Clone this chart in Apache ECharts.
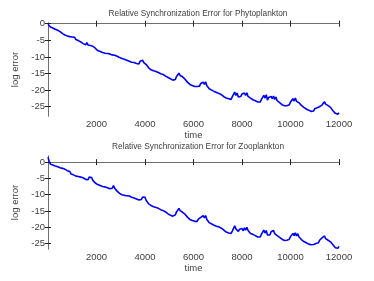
<!DOCTYPE html>
<html><head><meta charset="utf-8">
<script src="https://cdn.jsdelivr.net/npm/echarts@6/dist/echarts.min.js"></script>
<style>html,body{margin:0;padding:0;background:#fff}#c{width:374px;height:281px}</style>
</head><body><div id="c"></div>
<script>
const timeStep = 50;
const titles = ['Relative Synchronization Error for Phytoplankton', 'Relative Synchronization Error for Zooplankton'];
const xTicks = [2000, 4000, 6000, 8000, 10000, 12000];
const yTicks = [-25, -20, -15, -10, -5, 0];
const phytoError = [
-0.2,-0.6,-1.0,-1.4,-1.3,-1.8,-1.7,-2.1,-2.0,-2.5,-2.4,-3.0,-3.0,-3.5,-3.4,-3.9,-3.7,-4.2,-3.9,-4.4,
-4.0,-4.5,-4.1,-4.8,-4.5,-5.1,-4.8,-5.5,-5.0,-6.0,-5.7,-6.4,-5.7,-6.4,-5.8,-6.6,-6.0,-6.8,-6.3,-7.4,
-7.3,-8.1,-7.7,-8.4,-8.0,-8.7,-8.3,-8.9,-8.4,-9.0,-8.6,-9.1,-8.5,-9.4,-8.8,-9.5,-9.1,-9.8,-9.3,-10.2,
-9.8,-10.5,-10.0,-10.7,-10.2,-11.0,-10.5,-11.3,-10.8,-11.6,-11.0,-11.7,-11.1,-12.0,-11.5,-12.1,-11.3,-11.8,-11.0,-11.7,
-11.3,-12.3,-12.4,-13.3,-13.1,-13.9,-13.5,-14.2,-13.7,-14.4,-13.9,-14.7,-14.2,-15.1,-14.6,-15.3,-14.8,-15.8,-15.3,-16.2,
-15.8,-16.6,-16.2,-17.0,-16.5,-16.8,-15.9,-15.7,-14.9,-15.6,-15.1,-16.0,-15.7,-16.7,-16.5,-17.6,-17.3,-18.3,-17.8,-18.6,
-18.0,-18.9,-18.3,-18.9,-18.3,-18.8,-18.0,-18.4,-17.6,-18.3,-17.5,-18.7,-18.3,-19.6,-19.1,-20.0,-19.4,-20.4,-19.8,-20.7,
-20.1,-21.0,-20.4,-21.4,-20.8,-22.0,-21.5,-22.4,-21.8,-22.6,-22.0,-22.8,-22.0,-21.5,-20.6,-21.6,-20.9,-22.1,-21.5,-21.9,
-21.2,-21.8,-20.9,-21.6,-20.8,-21.9,-21.3,-22.4,-21.9,-22.9,-22.3,-23.2,-22.6,-23.6,-23.0,-23.6,-22.8,-22.5,-21.6,-22.4,
-21.4,-23.0,-22.2,-22.8,-21.9,-22.6,-21.8,-22.8,-22.1,-23.2,-22.6,-23.8,-23.2,-24.4,-23.8,-24.7,-24.1,-24.7,-24.1,-24.4,
-23.6,-23.6,-22.6,-23.3,-22.4,-23.4,-22.8,-23.8,-23.2,-24.6,-24.0,-25.2,-24.6,-25.7,-25.1,-26.1,-25.5,-26.4,-25.8,-26.3,
-25.6,-26.0,-25.3,-25.7,-25.0,-25.2,-24.5,-24.4,-23.5,-24.2,-23.7,-24.7,-24.1,-25.2,-25.0,-26.2,-26.0,-27.0,-26.5,-27.3,
-26.8
];
const zooError = [
1.5,0.2,-0.6,-1.1,-0.9,-1.4,-1.2,-1.7,-1.4,-1.9,-1.7,-2.2,-1.9,-2.5,-2.2,-2.8,-2.6,-3.2,-2.9,-3.6,
-3.2,-3.9,-3.6,-4.3,-3.8,-4.4,-4.0,-4.6,-4.1,-4.8,-4.5,-5.3,-4.8,-5.4,-4.6,-5.2,-4.7,-5.6,-5.5,-6.4,
-6.2,-6.9,-6.5,-7.2,-6.8,-7.5,-7.0,-7.6,-7.2,-7.9,-7.5,-8.2,-7.7,-8.0,-7.2,-8.0,-7.9,-8.9,-8.7,-9.6,
-9.3,-10.0,-9.5,-10.2,-9.6,-10.3,-9.7,-10.4,-10.0,-10.8,-10.3,-11.0,-10.5,-11.3,-10.9,-11.6,-11.1,-11.5,-10.7,-11.3,
-10.8,-11.8,-11.8,-12.8,-12.5,-13.3,-12.9,-13.7,-13.2,-13.9,-13.4,-14.2,-13.7,-14.6,-14.1,-14.9,-14.4,-15.3,-14.9,-15.9,
-15.5,-16.3,-15.8,-16.6,-16.0,-16.2,-15.3,-15.1,-14.2,-14.9,-14.4,-15.4,-15.0,-16.0,-15.8,-16.9,-16.6,-17.6,-17.1,-17.9,
-17.3,-18.2,-17.6,-18.2,-17.5,-17.9,-17.0,-17.3,-16.4,-17.1,-16.4,-17.6,-17.4,-18.6,-18.2,-19.0,-18.5,-19.4,-18.8,-19.7,
-19.1,-19.9,-19.4,-20.3,-19.8,-20.9,-20.5,-21.5,-21.0,-21.8,-21.2,-21.9,-21.2,-20.9,-19.6,-20.5,-19.9,-21.3,-20.6,-21.2,
-20.4,-21.1,-20.2,-20.9,-20.0,-21.0,-20.8,-21.9,-21.3,-22.2,-21.6,-22.6,-22.1,-23.0,-22.4,-23.0,-22.2,-21.9,-20.9,-21.8,
-21.0,-22.4,-21.8,-22.4,-21.4,-22.0,-21.0,-22.0,-21.5,-22.6,-22.0,-23.1,-22.6,-23.7,-23.2,-24.1,-23.5,-24.0,-23.4,-23.7,
-22.9,-22.9,-21.9,-22.6,-21.7,-22.7,-22.0,-23.0,-22.5,-23.8,-23.3,-24.4,-23.8,-24.8,-24.3,-25.2,-24.6,-25.4,-24.9,-25.3,
-24.7,-25.0,-24.4,-24.8,-24.0,-24.1,-23.3,-23.5,-22.7,-23.5,-23.1,-24.0,-23.4,-24.5,-24.3,-25.4,-25.1,-26.3,-25.9,-26.5,
-25.9
];
const yRanges = [[-27.8, 0.2], [-26.7, 1.9]];

const series = [phytoError, zooError];
const chart = echarts.init(document.getElementById('c'), null, {renderer: 'canvas'});
const font = 'Liberation Sans';
const textColor = '#404040';
const axisColor = '#6e6e6e';
const grids = [
  {left: 48, right: 35, top: 23, height: 93},
  {left: 48, right: 35, top: 156, height: 93}
];
const xAxes = [], yAxes = [], ser = [], ttl = [];
grids.forEach((g, i) => {
  const base = {min: 0, max: 12000, gridIndex: i, splitLine: {show: false},
    axisLine: {show: true, lineStyle: {color: axisColor, width: 1}},
    axisTick: {show: true, inside: true, length: 3, customValues: xTicks, lineStyle: {color: '#222'}}};
  xAxes.push(Object.assign({}, base, {type: 'value', position: 'bottom', name: 'time', nameLocation: 'middle', nameGap: 14,
    nameTextStyle: {fontFamily: font, fontSize: 9.5, color: textColor},
    axisLabel: {customValues: xTicks, formatter: v => String(v), fontFamily: font, fontSize: 9.5, color: textColor, margin: 3}}));
  xAxes.push(Object.assign({}, base, {type: 'value', position: 'top', axisLabel: {show: false}}));
  const ybase = {type: 'value', min: yRanges[i][0], max: yRanges[i][1], gridIndex: i, splitLine: {show: false},
    axisLine: {show: true, lineStyle: {color: axisColor, width: 1}},
    axisTick: {show: true, inside: true, length: 3, customValues: yTicks, lineStyle: {color: '#222'}}};
  yAxes.push(Object.assign({}, ybase, {position: 'left', name: 'log error', nameLocation: 'middle', nameGap: 21,
    nameTextStyle: {fontFamily: font, fontSize: 9.5, color: textColor},
    axisLabel: {customValues: yTicks, formatter: v => String(v), fontFamily: font, fontSize: 9.5, color: textColor, margin: 3}}));
  yAxes.push(Object.assign({}, ybase, {position: 'right', axisLabel: {show: false}}));
  ser.push({type: 'line', xAxisIndex: i * 2, yAxisIndex: i * 2, showSymbol: false, animation: false,
    lineStyle: {color: '#0000ff', width: 1.6}, clip: true,
    data: series[i].map((v, k) => [k * timeStep, v])});
  ttl.push({text: titles[i], left: 193, textAlign: 'center', top: i === 0 ? 5 : 138,
    textStyle: {fontFamily: font, fontSize: 8.3, fontWeight: 'normal', color: textColor}});
});
chart.setOption({animation: false, backgroundColor: '#fff', title: ttl, grid: grids, xAxis: xAxes, yAxis: yAxes, series: ser});
</script></body></html>
